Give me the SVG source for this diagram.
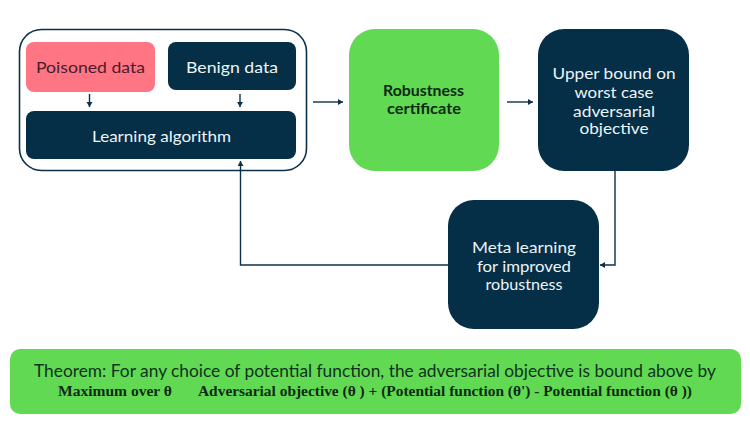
<svg xmlns="http://www.w3.org/2000/svg" width="750" height="425" viewBox="0 0 750 425">
<style>
.t{font-family:"Lato","Liberation Sans",sans-serif;font-size:16px;font-weight:400;text-anchor:middle;fill:#eef4f7}
.d{fill:#042f46}
.c{fill:none;stroke:#0c3049;stroke-width:1.400}
.b{font-family:"Liberation Serif",serif;font-weight:bold;font-size:15px;fill:#0d2a12}
.k{font-weight:bold;fill:#0a2a14;font-size:15px}
</style>
<defs><marker id="a" markerUnits="userSpaceOnUse" markerWidth="7" markerHeight="7" refX="5" refY="3" orient="auto"><path d="M0 0L5 3L0 6Z" fill="#0c3049"/></marker></defs>
<rect width="750" height="425" fill="#fff"/>
<g id="container"><rect x="19.500" y="29.500" width="287" height="141" rx="22" fill="#fff" stroke="#0c3049" stroke-width="1.600"/></g>
<g id="poisoned"><rect x="26" y="42" width="129" height="50" rx="8" fill="#ff7584"/><text class="t" x="90.500" y="72.500" textLength="109" lengthAdjust="spacingAndGlyphs" style="fill:#4a1c2c">Poisoned data</text></g>
<g id="benign"><rect class="d" x="168" y="42" width="128" height="48" rx="8"/><text class="t" x="232" y="72.500" textLength="92" lengthAdjust="spacingAndGlyphs">Benign data</text></g>
<g id="learning"><rect class="d" x="26" y="111" width="270" height="48" rx="8"/><text class="t" x="161.500" y="141.500" textLength="139" lengthAdjust="spacingAndGlyphs">Learning algorithm</text></g>
<g id="certificate"><rect x="349" y="29" width="150" height="142" rx="26" fill="#62d953"/><text class="t k" x="423.500" y="96" textLength="81" lengthAdjust="spacingAndGlyphs">Robustness</text><text class="t k" x="424" y="114" textLength="74" lengthAdjust="spacingAndGlyphs">certificate</text></g>
<g id="upper"><rect class="d" x="538" y="29" width="151" height="142" rx="26"/><text class="t" x="614" y="79" textLength="123" lengthAdjust="spacingAndGlyphs">Upper bound on</text><text class="t" x="614" y="98" textLength="79" lengthAdjust="spacingAndGlyphs">worst case</text><text class="t" x="614" y="117" textLength="82" lengthAdjust="spacingAndGlyphs">adversarial</text><text class="t" x="614" y="134" textLength="69" lengthAdjust="spacingAndGlyphs">objective</text></g>
<g id="meta"><rect class="d" x="448" y="200" width="151" height="129" rx="26"/><text class="t" x="524" y="253" textLength="104" lengthAdjust="spacingAndGlyphs">Meta learning</text><text class="t" x="524" y="272" textLength="94" lengthAdjust="spacingAndGlyphs">for improved</text><text class="t" x="524" y="290" textLength="77" lengthAdjust="spacingAndGlyphs">robustness</text></g>
<g id="theorem"><rect x="10" y="349" width="731" height="65" rx="10" fill="#62d953"/>
<text class="t" x="375" y="377" textLength="682" lengthAdjust="spacingAndGlyphs" style="font-size:16.500px;fill:#0f3320">Theorem: For any choice of potential function, the adversarial objective is bound above by</text>
<text class="b" x="58" y="396" textLength="114" lengthAdjust="spacingAndGlyphs">Maximum over θ</text>
<text class="b" x="198" y="396" textLength="494" lengthAdjust="spacingAndGlyphs">Adversarial objective (θ ) + (Potential function (θ') - Potential function (θ ))</text></g>
<g id="connectors">
<path class="c" marker-end="url(#a)" d="M89.500 94V107"/>
<path class="c" marker-end="url(#a)" d="M240 94V107"/>
<path class="c" marker-end="url(#a)" d="M313 102H343"/>
<path class="c" marker-end="url(#a)" d="M507 102H533"/>
<path class="c" marker-end="url(#a)" d="M615 171V265H600"/>
<path class="c" marker-end="url(#a)" d="M448 265H240.500V161"/>
</g>
</svg>
